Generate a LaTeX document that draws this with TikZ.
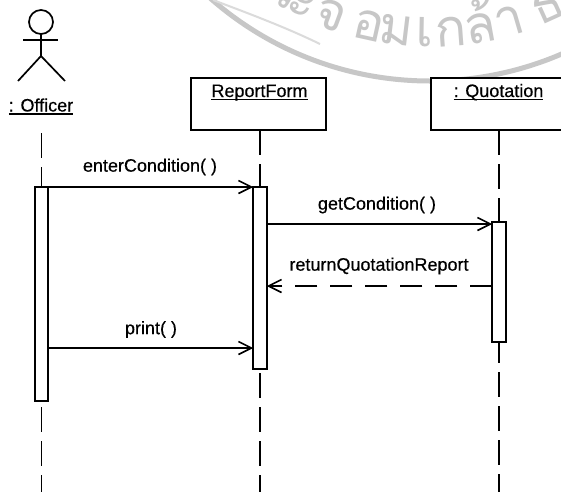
\documentclass[tikz,border=0pt]{standalone}
\usepackage{fontspec}
\setmainfont{Liberation Sans}[FakeBold=0.4]
\newfontfamily\thaifont[Script=Thai]{Loma}
\usetikzlibrary{arrows.meta}
\begin{document}
\begin{tikzpicture}[x=1pt,y=-1pt,
  every node/.style={inner sep=0pt, outer sep=0pt},
  lbl/.style={font=\fontsize{18}{21}\selectfont},
  ln/.style={line width=1.7pt},
  uline/.style={line width=1.4pt},
  objbox/.style={draw, line width=1.6pt, fill=white, minimum height=52pt, anchor=north west},
  actbox/.style={draw, line width=1.6pt, fill=white, minimum width=13.5pt, anchor=north},
  life/.style={line width=1.6pt, dash pattern=on 25pt off 9pt},
  msg/.style={line width=1.6pt, -{Straight Barb[length=13pt,width=13pt,line width=1.6pt]}},
  ret/.style={msg, dash pattern=on 22pt off 13pt},
  wm/.style={black!22},
  wmtext/.style={wm, anchor=base, font=\thaifont\fontsize{52}{52}\selectfont}]
\useasboundingbox[fill=white] (0,0) rectangle (561,491);
\clip (0,0) rectangle (561,491);
% watermark
\draw[wm, line width=5pt] (430,-252) circle[radius=333pt];
\draw[black!14, line width=2pt] (213,0) .. controls (250,14) and (285,27) .. (320,44);
\foreach \a/\g [count=\i] in {-30.4/ร,-26.6/ะ,-20.3/จ,-12.5/อ,-6.9/ม,-1.0/เ,4.2/ก,10.3/ล้,16.3/า,24.4/ธ}
  \node[wmtext, rotate=\a] (wm\i) at ({430+299*sin(\a)},{-252+299*cos(\a)}) {\g};
% actor
\draw[ln] (41,22) circle[radius=12pt];
\draw[ln] (23,40) -- (58,40);
\draw[ln] (41,34) -- (41,56);
\draw[ln] (18,81) -- (41,56) -- (65,81);
\node[lbl, anchor=base] (offLbl) at (41,111.5) {: Officer};
\draw[uline] ([yshift=-2.5pt]offLbl.base west) -- ([yshift=-2.5pt]offLbl.base east);
% object boxes
\node[objbox, minimum width=135pt] (rfBox) at (191,78) {};
\node[lbl, anchor=base] (rfLbl) at (259.5,97) {ReportForm};
\draw[uline] ([yshift=-2.5pt]rfLbl.base west) -- ([yshift=-2.5pt]rfLbl.base east);
\node[objbox, minimum width=136pt] (qBox) at (431,78) {};
\node[lbl, anchor=base] (qLbl) at (498.5,97) {: Quotation};
\draw[uline] ([yshift=-2.5pt]qLbl.base west) -- ([yshift=-2.5pt]qLbl.base east);
% activations
\node[actbox, minimum height=214pt] (offAct) at (41.5,187) {};
\node[actbox, minimum height=182pt] (rfAct) at (260,187) {};
\node[actbox, minimum height=120pt] (qAct) at (499,222) {};
% lifelines
\coordinate (offTop) at (41.5,133);
\coordinate (bottom) at (0,500);
\draw[life] (offTop) -- (offAct.north);
\draw[life] (rfAct.north |- rfBox.south) -- (rfAct.north);
\draw[life] (qAct.north |- qBox.south) -- (qAct.north);
\draw[life, dash phase=28pt] (offAct.south) -- (offAct.south |- bottom);
\draw[life, dash phase=30pt] (rfAct.south) -- (rfAct.south |- bottom);
\draw[life, dash phase=4pt] (qAct.south) -- (qAct.south |- bottom);
% messages
\coordinate (y2) at (0,224);
\coordinate (y3) at (0,286);
\coordinate (y4) at (0,348);
\draw[msg] (offAct.north) -- (rfAct.north west);
\draw[msg] (rfAct.east |- y2) -- (qAct.west |- y2);
\draw[ret] (qAct.west |- y3) -- (rfAct.east |- y3);
\draw[msg] (offAct.east |- y4) -- (rfAct.west |- y4);
\node[lbl] (m1) at (150,167) {enterCondition( )};
\node[lbl] (m2) at (377,205) {getCondition( )};
\node[lbl] (m3) at (379,266) {returnQuotationReport};
\node[lbl] (m4) at (151,329.5) {print( )};
\end{tikzpicture}
\end{document}
